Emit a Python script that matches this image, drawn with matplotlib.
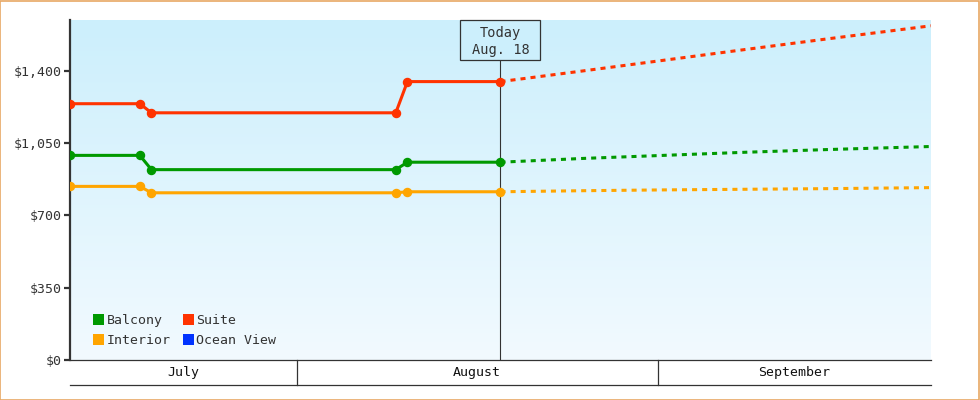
import matplotlib
matplotlib.use('Agg')
import matplotlib.pyplot as plt
import matplotlib.dates as mdates
import matplotlib.transforms as mtransforms
import numpy as np
import pandas as pd
from matplotlib.patches import Rectangle, Patch

# ---- data ----
hist_dates = ["2024-07-12", "2024-07-18", "2024-07-19", "2024-08-09", "2024-08-10", "2024-08-18"]
balcony_hist = [990, 990, 921, 921, 957, 957]
suite_hist = [1240, 1240, 1196, 1196, 1347, 1347]
interior_hist = [840, 840, 809, 809, 814, 814]

fc_dates = ["2024-08-18", "2024-08-25", "2024-09-01", "2024-09-08", "2024-09-15", "2024-09-24"]
balcony_fc = [957, 975, 990, 1005, 1018, 1033]
suite_fc = [1347, 1398, 1450, 1502, 1553, 1617]
interior_fc = [814, 819, 823, 826, 829, 834]

series_names = ["Balcony", "Interior", "Suite", "Ocean View"]
months = ["July", "August", "September"]
month_starts = ["2024-07-01", "2024-08-01", "2024-09-01", "2024-10-01"]
y_ticks = [0, 350, 700, 1050, 1400]
today_date = "2024-08-18"
today_label = "Today\nAug. 18"

# ---- style ----
FONT = "DejaVu Sans Mono"
C_BAL = "#009900"
C_SUITE = "#FF3300"
C_INT = "#FFA500"
C_OCEAN = "#0033FF"
DARK = "#333333"
YMAX = 1645
noon = pd.Timedelta(hours=12)

def to_num(ds):
    return mdates.date2num([pd.Timestamp(d) + noon for d in ds])

hx = to_num(hist_dates)
fx = to_num(fc_dates)
xmin = hx[0]
xmax = fx[-1]

fig = plt.figure(figsize=(9.8, 4.0), dpi=100)
ax = fig.add_axes([70/980, 40/400, 861/980, 340/400])

# gradient background (darker at top)
grad = np.linspace(0, 1, 256).reshape(-1, 1)
top = np.array([0xCC, 0xEF, 0xFC]) / 255
bot = np.array([0xF2, 0xFA, 0xFF]) / 255
img = top[None, None, :] * (1 - grad[:, :, None]) + bot[None, None, :] * grad[:, :, None]
ax.imshow(img, extent=[xmin, xmax, 0, YMAX], aspect='auto', zorder=0,
          origin='upper', interpolation='bilinear')
ax.set_xlim(xmin, xmax)
ax.set_ylim(0, YMAX)

lw = 2.2
ms = 5.8
for vals, fvals, c in [(suite_hist, suite_fc, C_SUITE), (balcony_hist, balcony_fc, C_BAL),
                       (interior_hist, interior_fc, C_INT)]:
    ax.plot(hx, vals, color=c, lw=lw, marker='o', ms=ms, zorder=4, solid_joinstyle='round')
    ax.plot(fx, fvals, color=c, lw=lw, dashes=(1.65, 1.65), zorder=3)

# today line and box
tx = to_num([today_date])[0]
px_per_day = 861 / (xmax - xmin)
px_per_val = 340 / YMAX
box_w = 80 / px_per_day
box_bot = YMAX - 40 / px_per_val
ax.plot([tx, tx], [0, box_bot], color=DARK, lw=0.8, zorder=2)
ax.add_patch(Rectangle((tx - box_w / 2, box_bot), box_w, YMAX - box_bot, fc='#CCEFFC',
                       ec=DARK, lw=0.9, zorder=6, clip_on=False))
ax.text(tx, (YMAX + box_bot) / 2 - 1.5 / px_per_val, today_label, ha='center', va='center',
        fontsize=9.8, family=FONT, color=DARK, linespacing=1.35, zorder=7)

# axes styling
for s in ['top', 'right']:
    ax.spines[s].set_visible(False)
ax.spines['left'].set_color(DARK)
ax.spines['left'].set_linewidth(1.6)
ax.spines['bottom'].set_color(DARK)
ax.spines['bottom'].set_linewidth(0.9)
ax.set_yticks(y_ticks)
ax.set_yticklabels([f"${v:,}" for v in y_ticks], family=FONT, fontsize=9.5, color=DARK)
ax.tick_params(axis='y', length=4, width=1.6, color=DARK, pad=2)
ax.set_xticks([])

# month row under the axis
trans = mtransforms.blended_transform_factory(ax.transData, ax.transAxes)
row_bot = -25/340
ax.plot([xmin, xmax], [row_bot, row_bot], transform=trans, color=DARK, lw=0.9, clip_on=False)
ms_num = to_num(month_starts) - 0.5
for i, m in enumerate(months):
    a = max(ms_num[i], xmin)
    b = min(ms_num[i + 1], xmax)
    if i > 0:
        ax.plot([a, a], [0, row_bot], transform=trans, color=DARK, lw=0.9, clip_on=False)
    ax.text((a + b) / 2, row_bot / 2, m, transform=trans, ha='center', va='center',
            family=FONT, fontsize=9.5, color='#111111')

# legend
handles = [Patch(fc=C_BAL, ec='none'), Patch(fc=C_INT, ec='none'),
           Patch(fc=C_SUITE, ec='none'), Patch(fc=C_OCEAN, ec='none')]
leg = ax.legend(handles, series_names, ncol=2, loc='lower left', bbox_to_anchor=(0.027, 0.038),
                frameon=False, handlelength=0.85, handleheight=0.85, handletextpad=0.15,
                columnspacing=0.95, labelspacing=0.52, borderpad=0, borderaxespad=0,
                prop={'family': FONT, 'size': 9.5})
for t in leg.get_texts():
    t.set_color(DARK)

# outer border
fig.patches.append(Rectangle((0.0005, 0.001), 0.998, 0.997, transform=fig.transFigure,
                             fill=False, ec='#E8A865', lw=1.2))

fig.savefig('out.png', dpi=100)
